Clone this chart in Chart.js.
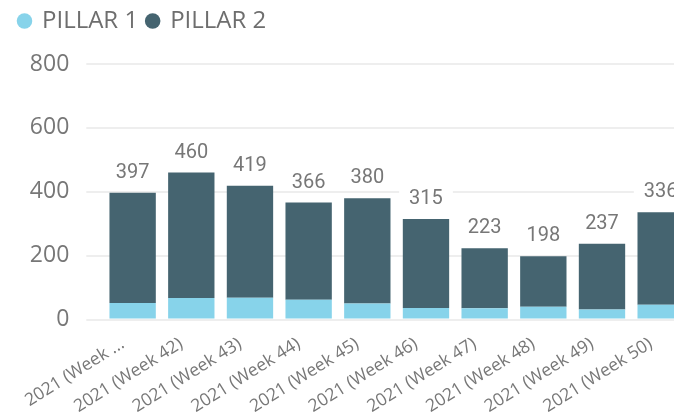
<!DOCTYPE html>
<html>
<head>
<meta charset="utf-8">
<script src="https://cdn.jsdelivr.net/npm/chart.js@4.4.1/dist/chart.umd.min.js"></script>
<style>
  html, body { margin: 0; padding: 0; background: #fff; overflow: hidden; }
  #wrap { position: relative; width: 690px; height: 419px; }
</style>
</head>
<body>
<div id="wrap"><canvas id="c"></canvas></div>
<script>
const categories = ["2021 (Week ...", "2021 (Week 42)", "2021 (Week 43)", "2021 (Week 44)", "2021 (Week 45)", "2021 (Week 46)", "2021 (Week 47)", "2021 (Week 48)", "2021 (Week 49)", "2021 (Week 50)"];
const pillar1 = [52, 67, 68, 62, 50, 36, 35, 40, 31, 46];
const pillar2 = [345, 393, 351, 304, 330, 279, 188, 158, 206, 290];
const yTicks = [0, 200, 400, 600, 800];

const totalLabels = {
  id: 'totalLabels',
  afterDatasetsDraw(chart) {
    const ctx = chart.ctx;
    const y = chart.scales.y;
    const meta = chart.getDatasetMeta(chart.data.datasets.length - 1);
    ctx.save();
    ctx.font = '20px Roboto';
    ctx.textAlign = 'center';
    ctx.textBaseline = 'alphabetic';
    categories.forEach((c, i) => {
      let total = 0;
      chart.data.datasets.forEach(ds => total += ds.data[i]);
      const px = meta.data[i].x;
      const py = y.getPixelForValue(total);
      const w = ctx.measureText(String(total)).width;
      ctx.fillStyle = '#ffffff';
      ctx.fillRect(px - w / 2 - 10, py - 33, w + 20, 20);
      ctx.fillStyle = '#777777';
      ctx.fillText(String(total), px, py - 15);
    });
    ctx.restore();
  }
};

const legendHeight = {
  id: 'legendHeight',
  beforeInit(chart) {
    const fit = chart.legend.fit;
    chart.legend.fit = function () {
      fit.bind(chart.legend)();
      this.height = 64;
    };
  }
};

new Chart(document.getElementById('c'), {
  type: 'bar',
  data: {
    labels: categories,
    datasets: [
      { label: 'PILLAR 1', data: pillar1, backgroundColor: '#87D3EA', borderWidth: 0 },
      { label: 'PILLAR 2', data: pillar2, backgroundColor: '#456470', borderWidth: 0 }
    ]
  },
  options: {
    responsive: true,
    maintainAspectRatio: false,
    animation: false,
    layout: { padding: { left: 10, right: 0, top: 0, bottom: 0 } },
    categoryPercentage: 1,
    barPercentage: 0.79,
    plugins: {
      legend: {
        position: 'top',
        align: 'start',
        labels: {
          usePointStyle: true,
          pointStyle: 'circle',
          boxWidth: 11,
          boxHeight: 11,
          padding: 9,
          color: '#6e6e6e',
          font: { family: 'Open Sans', size: 24 }
        }
      },
      tooltip: { enabled: false }
    },
    scales: {
      x: {
        stacked: true,
        grid: { display: false },
        border: { display: false },
        ticks: {
          autoSkip: false,
          minRotation: 32,
          maxRotation: 32,
          color: '#777777',
          padding: 6,
          labelOffset: -10,
          font: { family: 'Open Sans', size: 17.5 }
        },
        afterFit(scale) {
          scale.height = 99.5;
          scale.paddingLeft = 0;
          scale.paddingRight = 0;
        }
      },
      y: {
        stacked: true,
        min: 0,
        max: 800,
        afterBuildTicks(scale) { scale.ticks = yTicks.map(v => ({ value: v })); },
        grid: { color: '#eeeeee', lineWidth: 2, tickLength: 17, tickColor: '#eeeeee' },
        border: { display: false },
        ticks: {
          color: '#777777',
          padding: 17,
          font: { family: 'Open Sans', size: 23 }
        },
        afterFit(scale) {
          scale.width = 93.3;
          scale.paddingTop = 0;
          scale.paddingBottom = 0;
        }
      }
    }
  },
  plugins: [legendHeight, totalLabels]
});
</script>
</body>
</html>
